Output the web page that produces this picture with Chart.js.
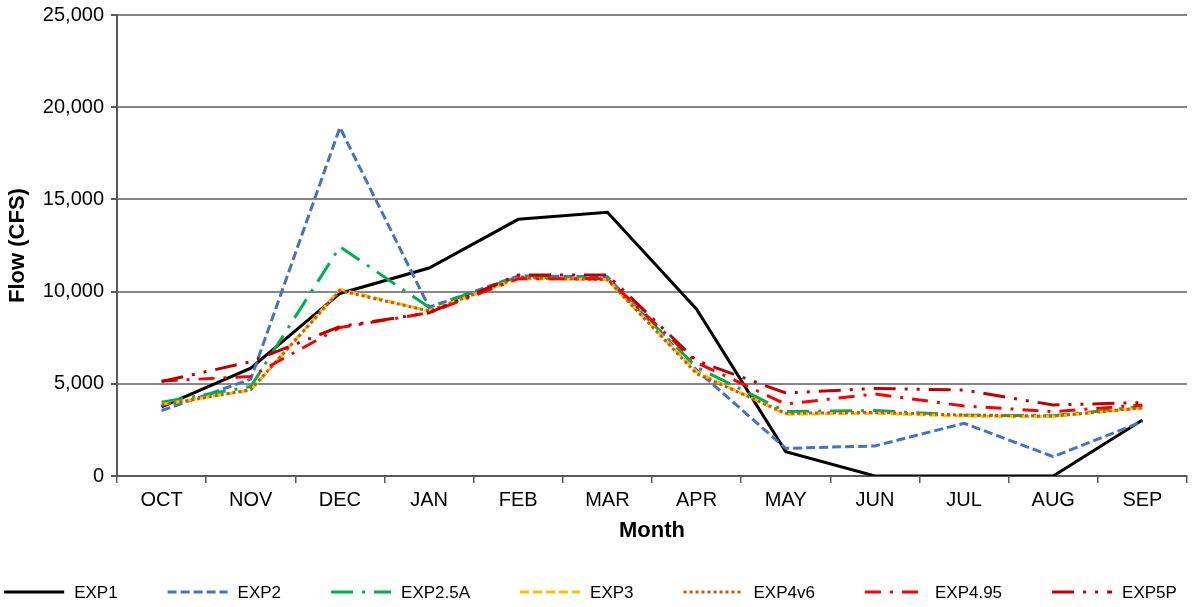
<!DOCTYPE html>
<html>
<head>
<meta charset="utf-8">
<script src="https://cdn.jsdelivr.net/npm/chart.js@4.4.1/dist/chart.umd.min.js"></script>
<style>
 html,body{margin:0;padding:0;background:#fff;}
 #wrap{width:1193px;height:607px;position:relative;}
</style>
</head>
<body>
<div id="wrap"><canvas id="grafico"></canvas></div>
<script>
const MESES=['OCT','NOV','DEC','JAN','FEB','MAR','APR','MAY','JUN','JUL','AUG','SEP'];
const SERIES=['EXP1','EXP2','EXP2.5A','EXP3','EXP4v6','EXP4.95','EXP5P'];

const exp1=[3750,5850,9900,11280,13920,14300,9050,1320,0,0,0,3040];
const exp2=[3550,5250,18900,9150,10850,10800,5750,1500,1630,2860,1050,2950];
const exp25a=[4000,4850,12430,9150,10800,10700,5900,3500,3550,3300,3270,3760];
const exp3=[3880,4650,10120,8950,10700,10650,5650,3350,3400,3250,3220,3680];
const exp4v6=[3850,4680,10050,8950,10750,10650,5550,3400,3450,3300,3250,3700];
const exp495=[5150,5400,8050,8850,10700,10700,6150,3900,4450,3800,3490,3850];
const exp5p=[5120,6200,8100,8850,10900,10900,6250,4500,4750,4660,3850,3980];

const COLORES=['#000000','#4472C4','#00B050','#FFC000','#C55A11','#FF0000','#C00000'];
const GUIONES=[[],[9,4],[22,9,3,9],[9,4],[3,3],[16,9,3,9],[22,9,3,9,3,9]];
const ANCHOS=[3,3,3,3,3,3,3];

const FUENTE='"Liberation Sans", Arial, sans-serif';
const valores=[exp1,exp2,exp25a,exp3,exp4v6,exp495,exp5p];

// leyenda propia: muestra de linea + texto, en una fila abajo
const leyenda={
 id:'leyendaAbajo',
 afterDraw(chart){
  const ctx=chart.ctx;
  const muestra=60,hueco=10,pad=50,y=592;
  ctx.save();
  ctx.font='17px '+FUENTE;
  const anchos=chart.data.datasets.map(d=>muestra+hueco+ctx.measureText(d.label).width);
  const total=anchos.reduce((a,b)=>a+b,0)+pad*(anchos.length-1);
  let x=(chart.width-total)/2-6;
  chart.data.datasets.forEach((d,i)=>{
   ctx.beginPath();
   ctx.strokeStyle=d.borderColor;
   ctx.lineWidth=d.borderWidth;
   ctx.setLineDash(d.borderDash||[]);
   ctx.moveTo(x,y);ctx.lineTo(x+muestra,y);
   ctx.stroke();
   ctx.setLineDash([]);
   ctx.fillStyle='#000';
   ctx.textBaseline='middle';
   ctx.fillText(d.label,x+muestra+hueco,y+1);
   x+=anchos[i]+pad;
  });
  ctx.restore();
 }
};

const datasets=SERIES.map((s,i)=>({
 label:s,
 data:valores[i],
 borderColor:COLORES[i],
 backgroundColor:COLORES[i],
 borderWidth:ANCHOS[i],
 borderDash:GUIONES[i],
 pointRadius:0,
 tension:0,
 fill:false,
 order:SERIES.length-i
}));

new Chart(document.getElementById('grafico').getContext('2d'),{
 type:'line',
 data:{labels:MESES,datasets},
 plugins:[leyenda],
 options:{
  responsive:true,
  maintainAspectRatio:false,
  animation:false,
  layout:{padding:{left:0,right:6,top:15,bottom:56}},
  plugins:{legend:{display:false},tooltip:{enabled:false}},
  scales:{
   x:{
    offset:true,
    grid:{offset:true,drawOnChartArea:false,tickLength:7,color:'#595959',lineWidth:1.5},
    border:{color:'#595959',width:2},
    ticks:{color:'#000',font:{family:FUENTE,size:20},padding:5,maxRotation:0},
    title:{display:true,text:'Month',color:'#000',font:{family:FUENTE,size:22,weight:'bold'},padding:{top:4,bottom:7}},
    afterFit(s){s.height=75;s.paddingLeft=0;s.paddingRight=0;}
   },
   y:{
    min:0,max:25000,
    grid:{color:'#868686',lineWidth:2,tickLength:6,tickColor:'#595959'},
    border:{color:'#595959',width:2},
    ticks:{stepSize:5000,color:'#000',font:{family:FUENTE,size:20},padding:7,
     callback:v=>v.toLocaleString('en-US')},
    title:{display:true,text:'Flow (CFS)',color:'#000',font:{family:FUENTE,size:22,weight:'bold'},padding:{top:5,bottom:0}},
    afterFit(s){s.width=117;s.paddingTop=0;s.paddingBottom=0;}
   }
  }
 }
});
</script>
</body>
</html>
